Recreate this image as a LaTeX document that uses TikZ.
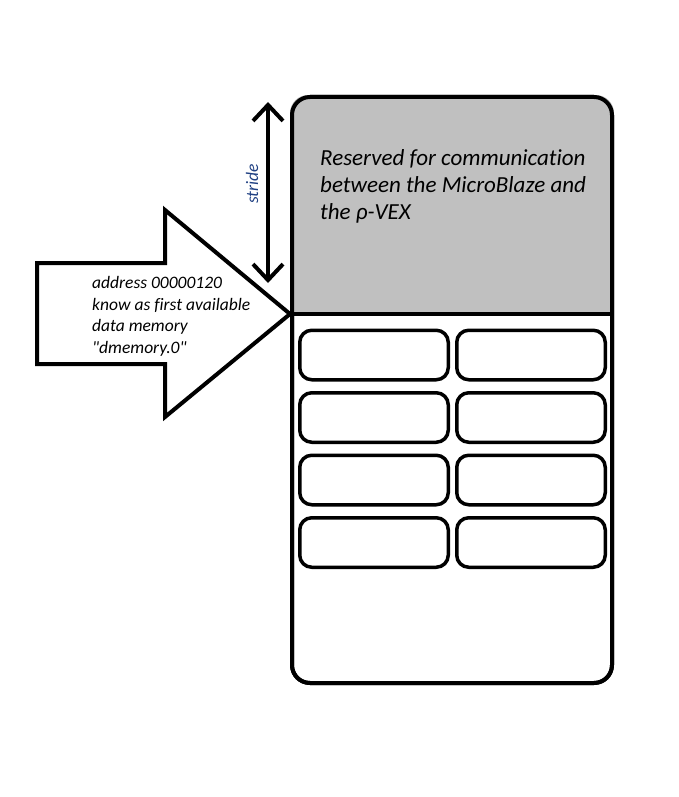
\documentclass[tikz,border=0pt]{standalone}
\usepackage{fontspec}
\setmainfont{Carlito}[Ligatures={NoCommon}]
\usepackage{tikz}
\usetikzlibrary{arrows.meta, calc, positioning}
\usepackage{xcolor}
\definecolor{Reserved}{RGB}{192, 192, 192}
\definecolor{StrideBlue}{RGB}{31, 64, 130}
\tikzset{%
  memory/.style={%
    rectangle,%
    draw=black,%
    line width=4pt,%
    rounded corners=18pt,%
    minimum width=320pt,%
    minimum height=586pt,%
    inner sep=0pt,%
  },
  cell/.style={%
    rectangle,%
    draw=black,%
    line width=3.5pt,%
    rounded corners=12pt,%
    minimum width=148.5pt,%
    minimum height=49.5pt,%
    inner sep=0pt,%
  },
  big_arrow/.style={%
    draw=black,%
    fill=white,%
    line width=4pt,%
    line join=miter,%
  },
  stride_path/.style={%
    line width=4pt,%
    {Straight Barb[length=16pt, width=30pt, line width=4pt]}-{Straight Barb[length=16pt, width=30pt, line width=4pt]},%
  },
  annotate/.style={%
    font={\fontsize{17.5}{21.5}\selectfont\itshape},%
    align=left,%
    inner sep=0pt,%
  },
  reserved_text/.style={%
    font={\fontsize{23}{27}\selectfont\itshape},%
    align=left,%
    inner sep=0pt,%
  },
}

\begin{document}
\begin{tikzpicture}[x=1pt, y=-1pt]

    \useasboundingbox (0,0) rectangle (679,797);

    \node [memory] (mem) at (452,390) {};
    \coordinate (split_w) at (mem.west |- 0,314);
    \coordinate (split_e) at (mem.east |- 0,314);

    % grey part on top
    \begin{scope}
      \clip [rounded corners=18pt] (mem.north west) rectangle (mem.south east);
      \fill [Reserved] (mem.north west) rectangle (split_e);
    \end{scope}
    \node [memory] at (mem.center) {};
    \draw [line width=4pt] (split_w) -- (split_e);

    \node [reserved_text, anchor=base west] (res) at (320,219)
      {Reserved for communication\\between the MicroBlaze and\\the ρ-VEX};

    % free cells
    \node [cell] (cell11) at (374,355) {};
    \node [cell, right=5pt of cell11] (cell12) {};
    \node [cell, below=9.5pt of cell11] (cell21) {};
    \node [cell, right=5pt of cell21] (cell22) {};
    \node [cell, below=9.5pt of cell21] (cell31) {};
    \node [cell, right=5pt of cell31] (cell32) {};
    \node [cell, below=9.5pt of cell31] (cell41) {};
    \node [cell, right=5pt of cell41] (cell42) {};

    % address pointer
    \coordinate (tip) at (split_w);
    \draw [big_arrow]
      (tip)
      --
      (165,210)
      --
      (165,263)
      --
      (37,263)
      --
      (37,364)
      --
      (165,364)
      --
      (165,417)
      --
      cycle;
    \node [annotate, anchor=base west] (addr) at (92,353)
      {address 00000120\\know as first available\\data memory\\\textquotedbl dmemory.0\textquotedbl};

    % stride
    \coordinate (stride_top) at (268,102);
    \coordinate (stride_bot) at (268,283);
    \draw [stride_path] (stride_top) -- (stride_bot);
    \node [annotate, text=StrideBlue, rotate=90] (stride) at (252,184) {stride};

  \end{tikzpicture}
\end{document}
